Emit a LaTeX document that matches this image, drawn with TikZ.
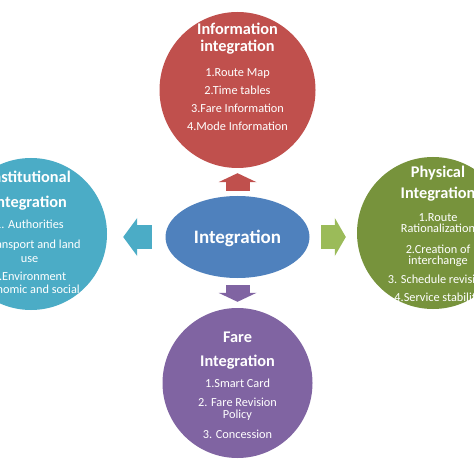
\documentclass[tikz,border=0pt]{standalone}
\usepackage{fontspec}
\setmainfont{Carlito}
\usetikzlibrary{arrows.meta,shapes.geometric}

\definecolor{infored}{HTML}{C0504D}
\definecolor{hubblue}{HTML}{4F81BD}
\definecolor{instcyan}{HTML}{4BACC6}
\definecolor{physgreen}{HTML}{77933C}
\definecolor{arrowgreen}{HTML}{9BBB59}
\definecolor{farepurple}{HTML}{8064A2}

\begin{document}
\begin{tikzpicture}[
		x=1bp,
		y=-1bp,
		topic/.style={circle, inner sep=0pt, minimum size=#1},
		headtext/.style={text=white, align=center, anchor=base, font=\bfseries\fontsize{16.3bp}{#1}\selectfont},
		itemtext/.style={text=white, align=center, anchor=base, font=\fontsize{12.3bp}{18bp}\selectfont},
		blockarrow/.style={line width=24bp, -{Triangle[width=38bp, length=#1, line width=0pt]}},
		blockarrow/.default=9bp
	]

	% Page
	\fill[white] (0,0) rectangle (474,474);
	\useasboundingbox (0,0) rectangle (474,474);

	% Circles
	\node[topic=156bp, fill=infored] (info) at (237.5,90) {};
	\node[topic=152bp, fill=instcyan] (inst) at (31,234) {};
	\node[topic=152bp, fill=physgreen] (phys) at (433,233) {};
	\node[topic=150bp, fill=farepurple] (fare) at (237.5,383) {};

	% Centre
	\node[ellipse, fill=hubblue, minimum width=144bp, minimum height=82bp, inner sep=0pt,
		text=white, text depth=0pt, font=\bfseries\fontsize{19bp}{19bp}\selectfont] (hub) at (237.5,237) {Integration};

	% Block arrows
	\draw[blockarrow, infored, shorten <=5bp, shorten >=5bp] (hub.north) -- (info.south);
	\draw[blockarrow, farepurple, shorten <=7bp, shorten >=6bp] (hub.south) -- (fare.north);
	\draw[blockarrow=14bp, instcyan, line width=23bp, shorten <=13.5bp, shorten >=16bp] (hub.west) -- (hub.west -| inst.east);
	\draw[blockarrow=11bp, arrowgreen, line width=23bp, shorten <=11.5bp, shorten >=11bp] (hub.east) -- (hub.east -| phys.west);

	% Texts (placed at the baseline of their last line)
	\node[headtext=17bp] (infoHead) at (237.5,52) {Information\\integration};
	\node[itemtext] (infoList) at (237.5,131) {1.Route Map\\2.Time tables\\3.Fare Information\\4.Mode Information};

	\node[headtext=25bp] (instHead) at (29.5,208) {Institutional\\Integration};
	\node[itemtext] (instList) at (29.5,293) {1. Authorities\\[1bp]2.Transport and land\\[-4bp]use\\3.Environment\\[-5bp]Economic and social};

	\node[headtext=21bp] (physHead) at (438,199) {Physical\\Integration};
	\node[itemtext] (physList) at (438,301) {1.Route\\[-6.5bp]Rationalization\\[2bp]2.Creation of\\[-6.5bp]interchange\\[0.5bp]3. Schedule revision\\4.Service stability};

	\node[headtext=24bp] (fareHead) at (237.5,366) {Fare\\Integration};
	\node[itemtext] (fareList) at (237.5,438) {1.Smart Card\\[1bp]2. Fare Revision\\[-6bp]Policy\\[2bp]3. Concession};

\end{tikzpicture}
\end{document}
